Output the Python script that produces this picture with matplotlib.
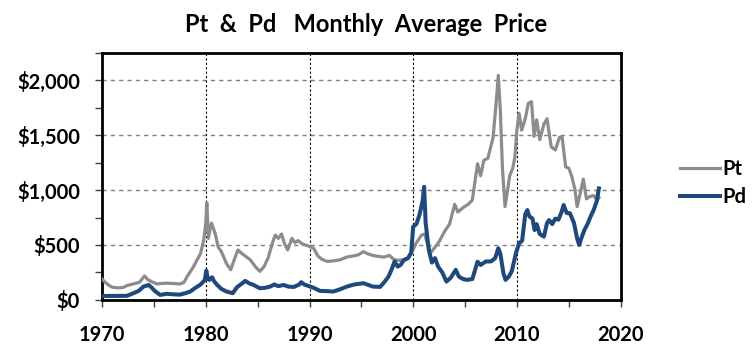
import matplotlib
matplotlib.use("Agg")
import matplotlib.pyplot as plt
from matplotlib.ticker import MultipleLocator, FuncFormatter

# ---- data (year, monthly average price in USD/oz) ----
pt_years = [1970.0, 1970.3, 1970.7, 1971.0, 1971.5, 1972.0, 1972.4, 1972.8, 1973.2, 1973.6,
            1974.1, 1974.4, 1974.8, 1975.3, 1975.8, 1976.2, 1976.8, 1977.5, 1977.9, 1978.2,
            1978.8, 1979.2, 1979.5, 1979.8, 1980.0, 1980.1, 1980.25, 1980.4, 1980.55, 1980.9,
            1981.2, 1981.5, 1982.0, 1982.4, 1982.8, 1983.1, 1983.5, 1983.8, 1984.3, 1984.8,
            1985.2, 1985.6, 1986.0, 1986.5, 1986.7, 1987.0, 1987.3, 1987.6, 1987.9, 1988.3,
            1988.6, 1988.9, 1989.3, 1989.9, 1990.4, 1990.8, 1991.2, 1991.7, 1992.3, 1992.9,
            1993.6, 1994.2, 1994.7, 1995.2, 1995.6, 1996.1, 1996.7, 1997.2, 1997.7, 1998.1,
            1998.5, 1999.0, 1999.5, 1999.9, 2000.3, 2000.8, 2001.1, 2001.4, 2001.7, 2002.1,
            2002.5, 2003.0, 2003.5, 2004.0, 2004.3, 2004.8, 2005.3, 2005.7, 2006.2, 2006.5,
            2006.8, 2007.2, 2007.7, 2008.0, 2008.2, 2008.4, 2008.6, 2008.85, 2009.1, 2009.3,
            2009.6, 2009.8, 2010.0, 2010.2, 2010.45, 2010.8, 2011.1, 2011.4, 2011.65, 2011.9,
            2012.2, 2012.6, 2012.9, 2013.3, 2013.7, 2014.1, 2014.35, 2014.7, 2015.0, 2015.3,
            2015.6, 2015.8, 2016.1, 2016.4, 2016.7, 2017.0, 2017.4, 2017.7, 2017.9]
pt_values = [190, 160, 130, 115, 110, 112, 130, 140, 150, 160,
             218, 185, 165, 145, 150, 152, 150, 145, 160, 212,
             300, 370, 424, 545, 700, 885, 560, 640, 700, 606,
             480, 440, 330, 275, 380, 455, 420, 400, 364, 300,
             260, 300, 380, 540, 590, 560, 600, 510, 455, 560,
             520, 540, 510, 490, 470, 400, 370, 350, 355, 364,
             390, 400, 410, 439, 420, 405, 395, 390, 405, 370,
             360, 364, 380, 440, 520, 590, 600, 500, 430, 480,
             530, 620, 690, 870, 800, 840, 870, 910, 1240, 1130,
             1270, 1290, 1480, 1800, 2045, 1720, 1200, 850, 1000, 1130,
             1200, 1300, 1550, 1700, 1545, 1650, 1790, 1805, 1490, 1640,
             1460, 1600, 1650, 1395, 1365, 1480, 1485, 1210, 1200, 1120,
             1000, 850, 970, 1100, 920, 940, 950, 910, 930]

pd_years = [1970.0, 1971.0, 1972.4, 1973.0, 1973.5, 1974.0, 1974.5, 1974.8, 1975.1, 1975.6,
            1976.2, 1977.0, 1977.5, 1978.0, 1978.5, 1979.0, 1979.5, 1979.9, 1980.05, 1980.2,
            1980.35, 1980.6, 1980.8, 1981.1, 1981.5, 1982.0, 1982.6, 1983.0, 1983.5, 1983.8,
            1984.2, 1984.6, 1985.2, 1985.7, 1986.2, 1986.6, 1987.0, 1987.5, 1988.0, 1988.5,
            1989.0, 1989.2, 1989.5, 1989.9, 1990.4, 1991.0, 1991.6, 1992.3, 1992.9, 1993.6,
            1994.3, 1995.2, 1995.7, 1996.1, 1996.8, 1997.2, 1997.6, 1997.9, 1998.2, 1998.5,
            1998.8, 1999.1, 1999.5, 1999.8, 2000.0, 2000.3, 2000.6, 2000.9, 2001.05, 2001.2,
            2001.5, 2001.8, 2002.1, 2002.4, 2002.8, 2003.2, 2003.6, 2004.1, 2004.4, 2004.8,
            2005.2, 2005.7, 2006.2, 2006.5, 2007.0, 2007.5, 2007.9, 2008.2, 2008.4, 2008.7,
            2008.9, 2009.2, 2009.5, 2009.9, 2010.2, 2010.5, 2010.8, 2011.0, 2011.2, 2011.5,
            2011.7, 2011.9, 2012.2, 2012.6, 2012.9, 2013.1, 2013.4, 2013.7, 2014.0, 2014.3,
            2014.5, 2014.8, 2015.1, 2015.5, 2015.8, 2016.0, 2016.2, 2016.5, 2016.8, 2017.1,
            2017.4, 2017.7, 2017.9]
pd_values = [36, 36, 37, 60, 80, 121, 136, 110, 80, 45,
             55, 50, 48, 60, 76, 110, 140, 180, 267, 190,
             182, 206, 170, 136, 100, 76, 61, 115, 150, 173,
             150, 136, 106, 110, 121, 140, 125, 136, 120, 118,
             140, 161, 140, 127, 110, 82, 80, 76, 95, 121,
             140, 152, 135, 121, 118, 160, 210, 273, 348, 303,
             320, 364, 380, 430, 667, 690, 773, 900, 1030, 700,
             455, 340, 380, 303, 250, 167, 200, 273, 212, 190,
             182, 190, 348, 318, 350, 350, 380, 470, 420, 240,
             182, 210, 260, 424, 515, 540, 780, 818, 760, 740,
             636, 690, 600, 576, 700, 727, 690, 740, 730, 800,
             864, 790, 790, 700, 560, 500, 560, 636, 690, 760,
             820, 900, 1015]

series_names = ["Pt", "Pd"]
title_text = "Pt  &  Pd   Monthly  Average  Price"

FONT = ["Lato", "DejaVu Sans"]
plt.rcParams["font.family"] = FONT

fig = plt.figure(figsize=(7.56, 3.57), dpi=100)
ax = fig.add_axes([0.135, 0.160, 0.686, 0.692])

ax.plot(pt_years, pt_values, color="#8c8c8c", lw=2.3, label=series_names[0], zorder=3)
ax.plot(pd_years, pd_values, color="#1f497d", lw=2.9, label=series_names[1], zorder=4)

ax.set_xlim(1970, 2020)
ax.set_ylim(0, 2250)
ax.xaxis.set_major_locator(MultipleLocator(10))
ax.xaxis.set_minor_locator(MultipleLocator(5))
ax.yaxis.set_major_locator(MultipleLocator(500))
ax.yaxis.set_minor_locator(MultipleLocator(250))
ax.yaxis.set_major_formatter(FuncFormatter(lambda v, p: f"${v:,.0f}"))

ax.tick_params(axis="both", which="both", direction="out", length=5, width=1, color="#404040")
ax.tick_params(axis="x", which="major", pad=13, labelsize=14.5)
ax.tick_params(axis="y", which="major", pad=11, labelsize=14.5)
for lab in ax.get_xticklabels() + ax.get_yticklabels():
    lab.set_fontweight("bold")

for y in [500, 1000, 1500, 2000]:
    ax.axhline(y, color="#7f7f7f", lw=1.0, ls=(0, (3, 3)), zorder=1)
for x in [1980, 1990, 2000, 2010]:
    ax.axvline(x, color="black", lw=0.8, ls=(0, (2, 2)), zorder=1)

for s in ax.spines.values():
    s.set_linewidth(2)
    s.set_color("black")

fig.text(0.484, 0.93, title_text, ha="center", va="center", fontsize=17,
         fontweight="bold")

leg = fig.legend(loc="center left", bbox_to_anchor=(0.876, 0.487), frameon=False,
                 prop={"size": 14.5, "weight": "bold"}, handlelength=1.95,
                 handletextpad=0.15, labelspacing=0.42)

fig.savefig("out.png", dpi=100)
